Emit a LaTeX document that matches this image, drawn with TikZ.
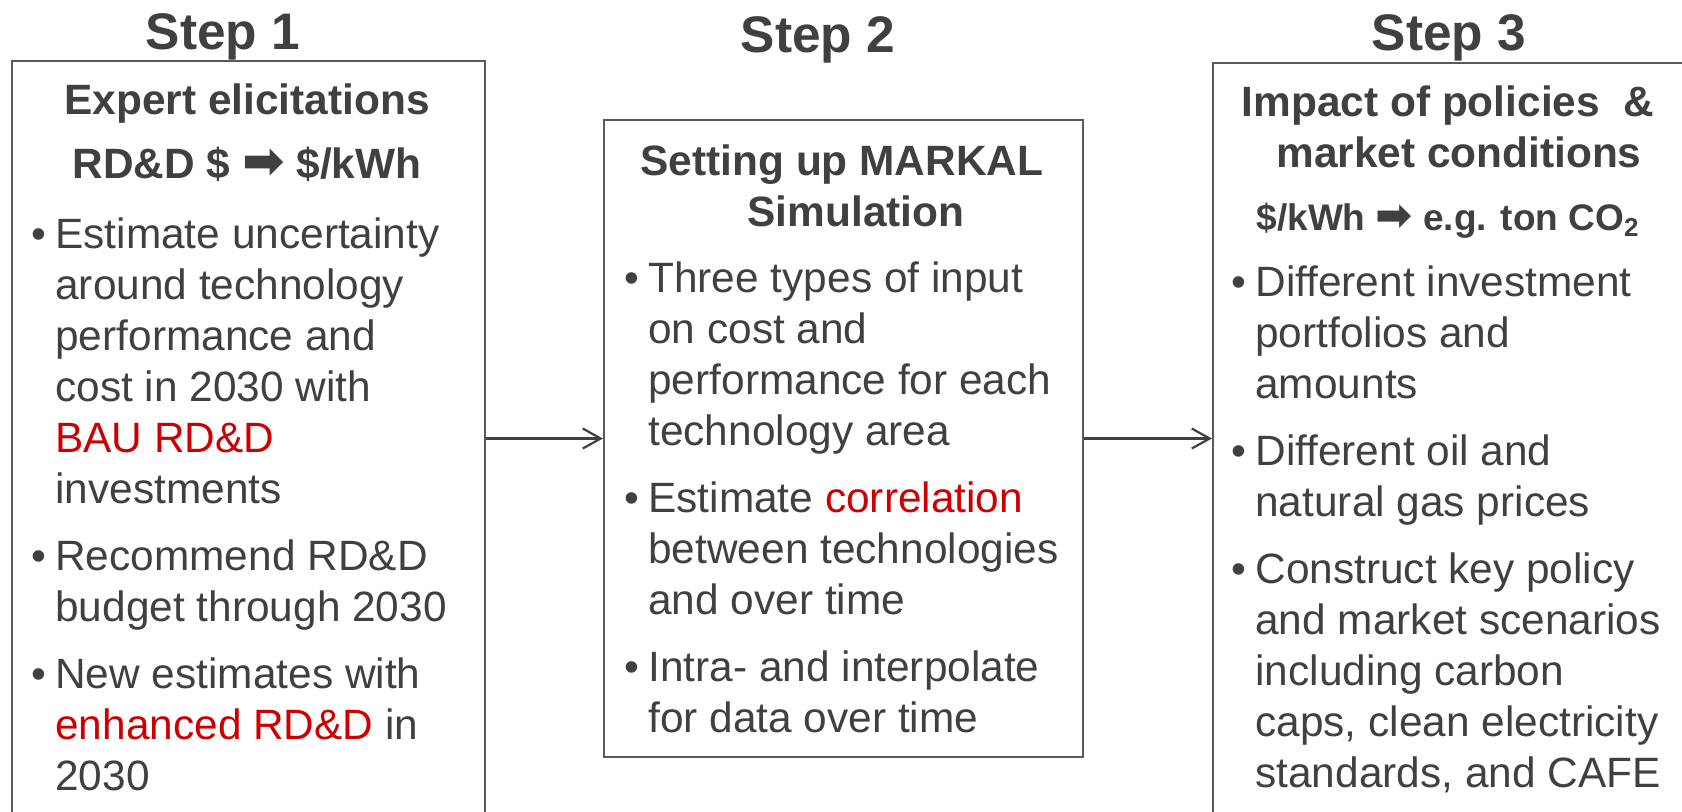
\documentclass[tikz,border=0pt]{standalone}
\usepackage{fontspec}
\usepackage{graphicx}
\setmainfont{Liberation Sans}
\newfontfamily\arrowfont{DejaVu Sans}
\usetikzlibrary{arrows.meta}
\definecolor{inkc}{HTML}{404040}
\definecolor{framec}{HTML}{5A5A5A}
\definecolor{hotc}{HTML}{CC0000}
\newcommand{\bodysize}{\fontsize{21.2pt}{25.5pt}\selectfont}
\newcommand{\bpt}{\noindent\llap{\textbullet\hspace{4.5pt}}}
\newcommand{\bgap}{\par\vspace{8pt}}
\newcommand{\hilite}[1]{\textcolor{hotc}{#1}}
\newcommand{\fatarrow}{\scalebox{1.2}{\arrowfont\symbol{"27A1}}}
\tikzset{
  stepbox/.style={draw=framec, line width=1pt, inner sep=0pt, anchor=north west},
  steptitle/.style={text=inkc, font=\fontsize{25.7pt}{30pt}\selectfont\bfseries, anchor=base, inner sep=0pt},
  head/.style={text=inkc, font=\bodysize\bfseries, anchor=base, inner sep=0pt},
  subhead/.style={text=inkc, font=\fontsize{18.5pt}{22pt}\selectfont\bfseries, anchor=base, inner sep=0pt},
  body/.style={text=inkc, font=\bodysize, anchor=base west, inner sep=0pt},
  flow/.style={draw=inkc, line width=1.1pt, -{Straight Barb[length=9pt,width=10pt]}},
}

\begin{document}
\begin{tikzpicture}[x=0.5pt,y=-0.5pt]
\useasboundingbox (0,0) rectangle (1682,811);
\clip (0,0) rectangle (1682,811);
% the three frames
\node[stepbox, minimum width=236.5pt, minimum height=395pt] (box1) at (11,60) {};
\node[stepbox, minimum width=239.5pt, minimum height=318.5pt] (box2) at (603,119) {};
\node[stepbox, minimum width=239pt, minimum height=394pt] (box3) at (1212,62) {};
\draw[flow] (box1.east |- box2.west) -- (box2.west);
\draw[flow] (box2.east) -- (box3.west |- box2.east);
% titles
\node[steptitle] (title1) at (223,49) {Step 1};
\node[steptitle] (title2) at (818,52) {Step 2};
\node[steptitle] (title3) at (1449,50) {Step 3};
% step 1
\node[head] (head1) at (247,114) {Expert elicitations};
\node[head] (sub1) at (247,178) {RD\&D \$ \fatarrow{} \$/kWh};
\node[body] (list1) at (55,248) {\parbox[t]{300pt}{%
\bpt Estimate uncertainty\\ around technology\\ performance and\\ cost in 2030 with\\ \hilite{BAU RD\&D}\\ investments\bgap
\bpt Recommend RD\&D\\ budget through 2030\bgap
\bpt New estimates with\\ \hilite{enhanced RD\&D} in\\ 2030}};
% step 2
\node[head] (head2) at (842,175) {\parbox[t]{300pt}{\centering Setting up MARKAL\\ \hspace*{14pt}Simulation}};
\node[body] (list2) at (648,292) {\parbox[t]{300pt}{%
\bpt Three types of input\\ on cost and\\ performance for each\\ technology area\bgap
\bpt Estimate \hilite{correlation}\\ between technologies\\ and over time\bgap
\bpt Intra- and interpolate\\ for data over time}};
% step 3
\node[head] (head3) at (1448,116) {\parbox[t]{300pt}{\centering Impact of policies\ \ \&\\ \hspace*{11pt}market conditions}};
\node[subhead] (sub3) at (1448,230) {\$/kWh \fatarrow{} e.g. ton CO\textsubscript{2}};
\node[body] (list3) at (1255,296) {\parbox[t]{300pt}{%
\bpt Different investment\\ portfolios and\\ amounts\bgap
\bpt Different oil and\\ natural gas prices\bgap
\bpt Construct key policy\\ and market scenarios\\ including carbon\\ caps, clean electricity\\ standards, and CAFE}};
\end{tikzpicture}
\end{document}
